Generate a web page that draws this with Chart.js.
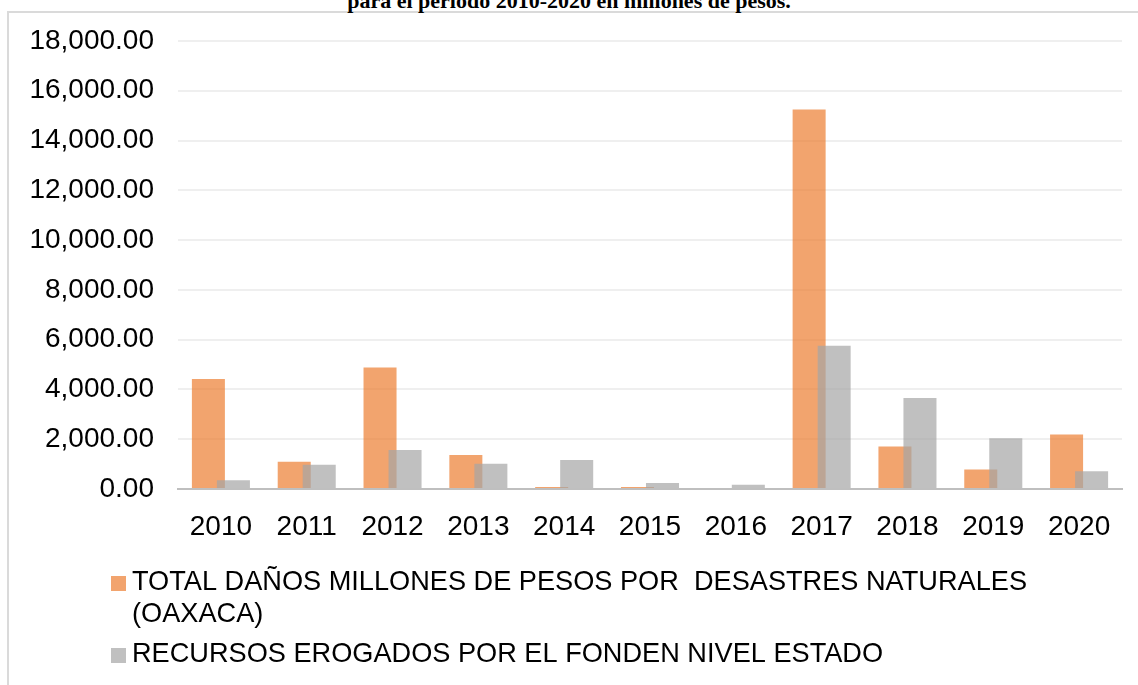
<!DOCTYPE html>
<html>
<head>
<meta charset="utf-8">
<script src="https://cdn.jsdelivr.net/npm/chart.js@4.4.1/dist/chart.umd.min.js"></script>
<style>
  html, body { margin: 0; padding: 0; background: #fff; }
  body { width: 1138px; height: 685px; position: relative; overflow: hidden; }
  #frame { position: absolute; left: 7px; top: 11px; width: 1200px; height: 800px; border: 2px solid #dadada; }
  #title { position: absolute; left: 0; top: -10px; width: 1138px; text-align: center;
           font: bold 22px "Liberation Serif", "Times New Roman", serif; line-height: 22px; }
  #barchart { position: absolute; left: 0; top: 0; }
</style>
</head>
<body>
<div id="frame"></div>
<div id="title">para el periodo 2010-2020 en millones de pesos.</div>
<canvas id="barchart" width="1138" height="685"></canvas>
<script>
const years = ['2010', '2011', '2012', '2013', '2014', '2015', '2016', '2017', '2018', '2019', '2020'];
const danos = [4420, 1090, 4880, 1370, 80, 80, 0, 15250, 1710, 780, 2190];
const recursos = [350, 970, 1570, 1010, 1170, 240, 170, 5760, 3660, 2040, 710];
const labelDanos = ['TOTAL DAÑOS MILLONES DE PESOS POR  DESASTRES NATURALES', '(OAXACA)'];
const labelRecursos = 'RECURSOS EROGADOS POR EL FONDEN NIVEL ESTADO';
const yMax = 18000;
const yStep = 2000;

Chart.defaults.font.family = '"Liberation Sans", Arial, sans-serif';
Chart.defaults.font.size = 28;
Chart.defaults.color = '#000';

// grey bars have to lie over the orange ones, so draw in dataset order
const drawInOrder = {
  id: 'drawInOrder',
  beforeDatasetsDraw(chart) {
    chart.data.datasets.forEach((d, i) => chart.getDatasetMeta(i).controller.draw());
    return false;
  }
};

// legend under the axis, one item per row, text wraps like the original
const legendBelow = {
  id: 'legendBelow',
  afterDraw(chart) {
    const ctx = chart.ctx;
    ctx.save();
    ctx.font = '28px "Liberation Sans", Arial, sans-serif';
    ctx.textBaseline = 'middle';
    let y = 582;
    chart.data.datasets.forEach(ds => {
      ctx.fillStyle = ds.backgroundColor;
      ctx.fillRect(111, y - 6, 15, 15);
      ctx.fillStyle = '#000';
      [].concat(ds.label).forEach(line => {
        ctx.save();
        ctx.translate(132, y);
        ctx.scale(0.97, 1);
        ctx.fillText(line, 0, 0);
        ctx.restore();
        y += 32;
      });
      y += 8;
    });
    ctx.restore();
  }
};

const ctx = document.getElementById('barchart');

new Chart(ctx, {
  type: 'bar',
  data: {
    labels: years,
    datasets: [{
      label: labelDanos,
      data: danos,
      backgroundColor: 'rgba(237, 125, 49, 0.7)'
    }, {
      label: labelRecursos,
      data: recursos,
      backgroundColor: 'rgba(165, 165, 165, 0.7)'
    }]
  },
  options: {
    responsive: false,
    animation: false,
    categoryPercentage: 0.583,
    barPercentage: 1.32,
    layout: { padding: { left: 27, top: 41, right: 16, bottom: 146 } },
    plugins: {
      legend: { display: false },
      tooltip: { enabled: false }
    },
    scales: {
      x: {
        grid: { display: false },
        border: { color: '#bfbfbf', width: 2 },
        ticks: { padding: 13 },
        afterFit(scale) { scale.height = 50; }
      },
      y: {
        min: 0,
        max: yMax,
        grid: { color: '#efefef', lineWidth: 2, drawTicks: false },
        border: { display: false },
        ticks: {
          stepSize: yStep,
          padding: 24,
          callback: v => v.toLocaleString('en-US', { minimumFractionDigits: 2, maximumFractionDigits: 2 })
        },
        afterFit(scale) { scale.width = 151; }
      }
    }
  },
  plugins: [drawInOrder, legendBelow]
});
</script>
</body>
</html>
